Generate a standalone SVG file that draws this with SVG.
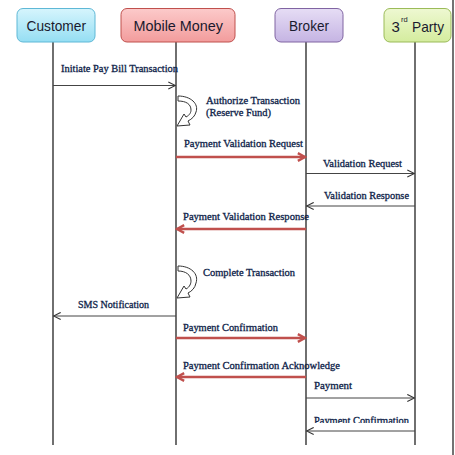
<svg xmlns="http://www.w3.org/2000/svg" width="455" height="455" viewBox="0 0 455 455">
<style>
.node-label{font-family:"Liberation Sans",Arial,sans-serif;font-size:15px;fill:#1a1a2e}
.msg{font-family:"Liberation Serif","Times New Roman",serif;font-size:10px;fill:#0f1f4a;stroke:#0f1f4a;stroke-width:0.3}
.life{stroke:#222;stroke-width:1.3}
.thin{stroke:#444;stroke-width:1;fill:none}
.red{stroke:#c0504d;stroke-width:2.6;fill:none}
.shadow{stroke:#999;stroke-width:2.6;fill:none;opacity:0.35}
.self{fill:#fff;stroke:#333;stroke-width:1}
</style>
<defs>
<linearGradient id="gCust" x1="0" y1="0" x2="0" y2="1"><stop offset="0" stop-color="#d6f5fd"/><stop offset="1" stop-color="#95def3"/></linearGradient>
<linearGradient id="gMM" x1="0" y1="0" x2="0" y2="1"><stop offset="0" stop-color="#fccaca"/><stop offset="1" stop-color="#f29c9c"/></linearGradient>
<linearGradient id="gBr" x1="0" y1="0" x2="0" y2="1"><stop offset="0" stop-color="#e6ddf5"/><stop offset="1" stop-color="#c5b4e3"/></linearGradient>
<linearGradient id="g3P" x1="0" y1="0" x2="0" y2="1"><stop offset="0" stop-color="#eef8d2"/><stop offset="1" stop-color="#d4ec9e"/></linearGradient>
<marker id="open" viewBox="0 0 10 10" refX="9" refY="5" markerWidth="9" markerHeight="9" markerUnits="userSpaceOnUse" orient="auto">
<path d="M1,1 L9,5 L1,9" fill="none" stroke="#333" stroke-width="1.2"/>
</marker>
<marker id="redArr" viewBox="0 0 10 10" refX="8.5" refY="5" markerWidth="11" markerHeight="11" markerUnits="userSpaceOnUse" orient="auto">
<path d="M2,1.5 L8.5,5 L2,8.5" fill="none" stroke="#c0504d" stroke-width="2.2"/>
</marker>
<filter id="blur" x="-5%" y="-100%" width="110%" height="300%"><feGaussianBlur stdDeviation="1"/></filter>
<clipPath id="clipPC"><rect x="300" y="400" width="120" height="23"/></clipPath>
</defs>
<rect width="455" height="455" fill="#fff"/>
<line x1="453" y1="0" x2="453" y2="455" stroke="#444" stroke-width="1.5"/>

<g id="lifelines">
<line class="life" x1="53" y1="42" x2="53" y2="445"/>
<line class="life" x1="176" y1="42" x2="176" y2="445"/>
<line class="life" x1="306" y1="42" x2="306" y2="445"/>
<line class="life" x1="415" y1="42" x2="415" y2="445"/>
</g>

<g id="customer">
<rect x="17" y="8.5" width="78" height="33.5" rx="6" fill="url(#gCust)" stroke="#5fb8d6" stroke-width="1"/>
<text class="node-label" x="26.5" y="31" textLength="59.5" lengthAdjust="spacingAndGlyphs">Customer</text>
</g>
<g id="mobile-money">
<rect x="121" y="8.5" width="114" height="33.5" rx="6" fill="url(#gMM)" stroke="#c0504d" stroke-width="1"/>
<text class="node-label" x="133.5" y="31" textLength="89.5" lengthAdjust="spacingAndGlyphs">Mobile Money</text>
</g>
<g id="broker">
<rect x="275" y="8.5" width="68" height="33.5" rx="6" fill="url(#gBr)" stroke="#8064a2" stroke-width="1"/>
<text class="node-label" x="289" y="31" textLength="40" lengthAdjust="spacingAndGlyphs">Broker</text>
</g>
<g id="third-party">
<rect x="384" y="8.5" width="67" height="33.5" rx="6" fill="url(#g3P)" stroke="#9bbb59" stroke-width="1"/>
<text class="node-label" x="391.5" y="32">3</text>
<text class="node-label" x="401" y="22" style="font-size:7.5px">rd</text>
<text class="node-label" x="412" y="32" textLength="32" lengthAdjust="spacingAndGlyphs">Party</text>
</g>

<g id="connectors">
<line class="thin" x1="53" y1="85.5" x2="175.5" y2="85.5" marker-end="url(#open)"/>
<path class="self" d="M178,96 C191,96 199,104 196,112 C195,116 192,119 188,121 L190,125 L177,126 L184,114 L186,117 C190,115 191,112 191,110 C191,104 186,101 178,101 Z"/>
<line class="shadow" x1="177" y1="159" x2="302" y2="159" filter="url(#blur)"/>
<line class="red" x1="176" y1="157" x2="305" y2="157" marker-end="url(#redArr)"/>
<line class="thin" x1="306" y1="173.5" x2="414.5" y2="173.5" marker-end="url(#open)"/>
<line class="thin" x1="415" y1="206" x2="306.5" y2="206" marker-end="url(#open)"/>
<line class="shadow" x1="305" y1="231" x2="180" y2="231" filter="url(#blur)"/>
<line class="red" x1="306" y1="229" x2="177" y2="229" marker-end="url(#redArr)"/>
<path class="self" d="M178,266 C191,266 199,274 196,283 C195,288 192,291 188,293 L190,297 L177,298 L184,286 L186,289 C190,287 191,283 191,281 C191,275 186,271 178,271 Z"/>
<line class="thin" x1="176" y1="316" x2="53.5" y2="316" marker-end="url(#open)"/>
<line class="shadow" x1="177" y1="340" x2="302" y2="340" filter="url(#blur)"/>
<line class="red" x1="176" y1="338" x2="305" y2="338" marker-end="url(#redArr)"/>
<line class="shadow" x1="305" y1="379" x2="180" y2="379" filter="url(#blur)"/>
<line class="red" x1="306" y1="377" x2="177" y2="377" marker-end="url(#redArr)"/>
<line class="thin" x1="306" y1="398" x2="414.5" y2="398" marker-end="url(#open)"/>
<line class="thin" x1="415" y1="431" x2="306.5" y2="431" marker-end="url(#open)"/>
</g>

<g id="labels">
<text class="msg" x="61" y="72" textLength="117" lengthAdjust="spacingAndGlyphs">Initiate Pay Bill Transaction</text>
<text class="msg" x="206" y="104" textLength="94" lengthAdjust="spacingAndGlyphs">Authorize Transaction</text>
<text class="msg" x="206" y="116" textLength="65" lengthAdjust="spacingAndGlyphs">(Reserve Fund)</text>
<text class="msg" x="184" y="147" textLength="119" lengthAdjust="spacingAndGlyphs">Payment Validation  Request</text>
<text class="msg" x="323" y="167" textLength="79" lengthAdjust="spacingAndGlyphs">Validation Request</text>
<text class="msg" x="324" y="199" textLength="85" lengthAdjust="spacingAndGlyphs">Validation Response</text>
<text class="msg" x="183" y="220" textLength="126" lengthAdjust="spacingAndGlyphs">Payment Validation  Response</text>
<text class="msg" x="203" y="276" textLength="92" lengthAdjust="spacingAndGlyphs">Complete  Transaction</text>
<text class="msg" x="78" y="308" textLength="71" lengthAdjust="spacingAndGlyphs">SMS Notification</text>
<text class="msg" x="183" y="331" textLength="95" lengthAdjust="spacingAndGlyphs">Payment Confirmation</text>
<text class="msg" x="183" y="369" textLength="157" lengthAdjust="spacingAndGlyphs">Payment Confirmation  Acknowledge</text>
<text class="msg" x="314" y="389" textLength="38" lengthAdjust="spacingAndGlyphs">Payment</text>
<text class="msg" x="314" y="424" textLength="95" lengthAdjust="spacingAndGlyphs" clip-path="url(#clipPC)">Payment Confirmation</text>
</g>
</svg>
